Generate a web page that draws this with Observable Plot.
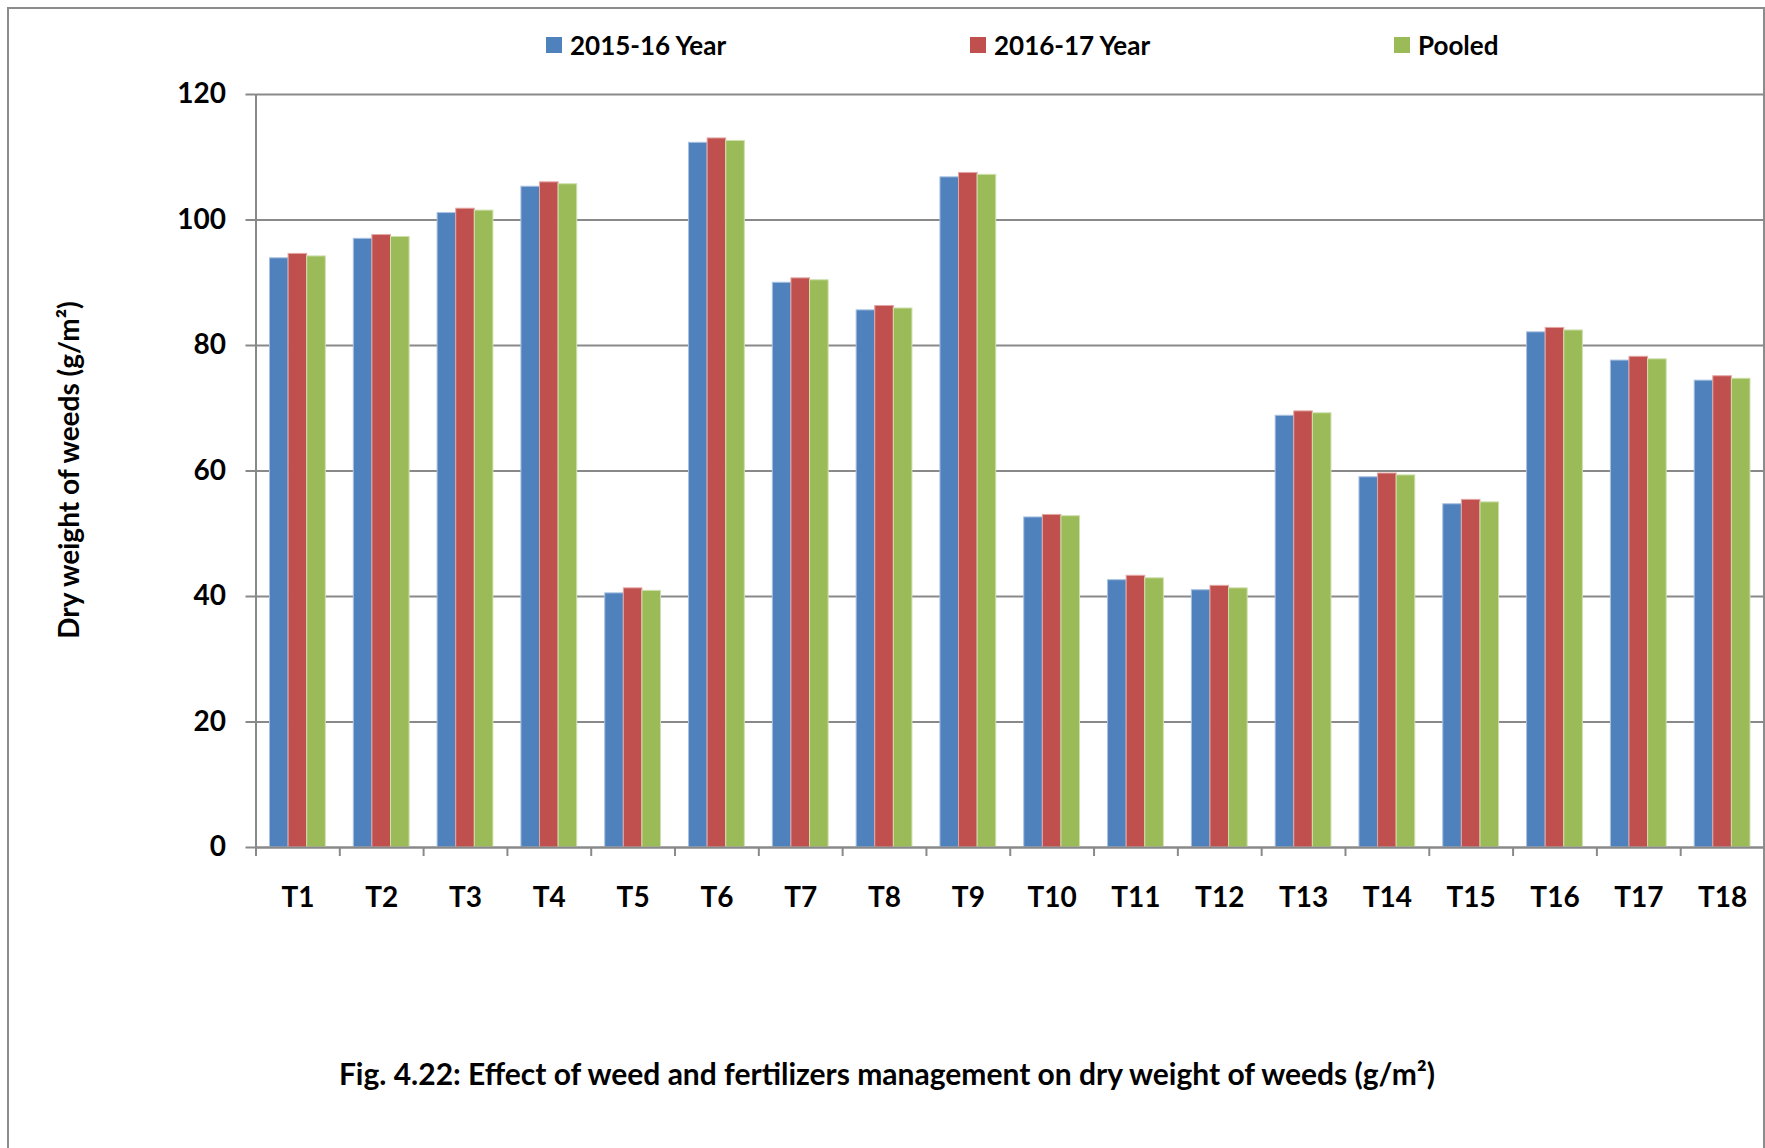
<!DOCTYPE html>
<html>
<head>
<meta charset="utf-8">
<script src="https://cdn.jsdelivr.net/npm/d3@7"></script>
<script src="https://cdn.jsdelivr.net/npm/@observablehq/plot@0.6"></script>
<style>
  html, body { margin: 0; padding: 0; background: #fff; }
  body { width: 1765px; height: 1148px; position: relative; overflow: hidden; font-family: Lato, "Open Sans", sans-serif; color: #000; }
  #frame { position: absolute; left: 7px; top: 7px; width: 1758px; height: 1150px; border: 2px solid #8c8c8c; border-bottom: none; box-sizing: border-box; }
  #legend { position: absolute; top: 0; left: 0; width: 1765px; height: 90px; }
  .li { position: absolute; top: 29px; display: flex; align-items: center; font-weight: 700; font-size: 26px; white-space: nowrap; }
  .sw { width: 16px; height: 16px; margin-right: 8px; }
  #chart { position: absolute; left: 0; top: 0; }
  #ylabel { position: absolute; left: 68px; top: 470px; transform: translate(-50%, -50%) rotate(-90deg); font-weight: 700; font-size: 28px; white-space: nowrap; }
  #caption { position: absolute; left: 887px; top: 1073px; transform: translate(-50%, -50%); font-weight: 700; font-size: 30px; white-space: nowrap; }
</style>
</head>
<body>
<div id="frame"></div>
<div id="legend"></div>
<div id="chart"></div>
<div id="ylabel">Dry weight of weeds (g/m²)</div>
<div id="caption">Fig. 4.22: Effect of weed and fertilizers management on dry weight of weeds (g/m²)</div>
<script>
const treatments = ["T1","T2","T3","T4","T5","T6","T7","T8","T9","T10","T11","T12","T13","T14","T15","T16","T17","T18"];
const seriesNames = ["2015-16 Year", "2016-17 Year", "Pooled"];
const year2015 = [93.9, 97.0, 101.1, 105.3, 40.5, 112.3, 90.0, 85.6, 106.8, 52.6, 42.6, 41.0, 68.8, 59.0, 54.7, 82.1, 77.6, 74.4];
const year2016 = [94.6, 97.6, 101.8, 106.0, 41.3, 113.0, 90.7, 86.3, 107.5, 53.0, 43.3, 41.7, 69.5, 59.6, 55.4, 82.8, 78.2, 75.1];
const pooled   = [94.2, 97.3, 101.5, 105.7, 40.9, 112.6, 90.4, 85.9, 107.2, 52.8, 42.9, 41.3, 69.2, 59.3, 55.0, 82.4, 77.8, 74.7];
const yTicks = [0, 20, 40, 60, 80, 100, 120];
const colors = ["#4F81BD", "#C0504D", "#9BBB59"];
const edges  = ["#a9c1e0", "#e3a7a5", "#cfe0ae"];

const seriesValues = [year2015, year2016, pooled];
const rows = seriesValues.map((vals, si) => treatments.map((t, i) => ({t, s: seriesNames[si], v: vals[i]})));

// legend
const legendX = [546, 970, 1394];
const legend = document.getElementById("legend");
seriesNames.forEach((n, i) => {
  const d = document.createElement("div");
  d.className = "li";
  d.style.left = legendX[i] + "px";
  d.innerHTML = `<span class="sw" style="background:${colors[i]}"></span><span>${n}</span>`;
  legend.appendChild(d);
});

const W = 1765, H = 960;
const mL = 255.5, mR = 1, mT = 94, mB = 113;
const bw = (W - mL - mR) / treatments.length;
const outer = 0.167, barF = 0.222;
const grey = "#898989";

const barMarks = rows.map((data, si) => Plot.barY(data, {
  x: "t", y: "v",
  fill: colors[si],
  stroke: edges[si], strokeWidth: 1,
  insetLeft: bw * (outer + si * barF),
  insetRight: bw - bw * (outer + (si + 1) * barF)
}));

const chart = Plot.plot({
  width: W, height: H,
  marginLeft: mL, marginRight: mR, marginTop: mT, marginBottom: mB,
  style: {fontFamily: "Lato, 'Open Sans', sans-serif", color: "#000", background: "transparent", overflow: "visible"},
  x: {domain: treatments, padding: 0, round: false, axis: null},
  y: {domain: [0, yTicks[yTicks.length - 1]], axis: null},
  marks: [
    Plot.gridY(yTicks, {stroke: grey, strokeOpacity: 1, strokeWidth: 2}),
    ...barMarks,
    Plot.ruleY([0], {stroke: grey, strokeWidth: 2}),
    Plot.ruleX([treatments[0]], {dx: -bw / 2, y1: 0, y2: yTicks[yTicks.length - 1], stroke: grey, strokeWidth: 2}),
    Plot.ruleX(treatments, {x: d => d, dx: -bw / 2, y1: 0, y2: 0, insetBottom: -9, stroke: grey, strokeWidth: 2}),
    Plot.axisY(yTicks, {anchor: "left", tickSize: 10, tickPadding: 20, stroke: grey, strokeWidth: 2, fontSize: 28, fontWeight: "bold", fill: "#000", label: null}),
    Plot.axisX(treatments, {anchor: "bottom", tickSize: 0, tickPadding: 40, fontSize: 28, fontWeight: "bold", fill: "#000", label: null})
  ]
});
document.getElementById("chart").appendChild(chart);
</script>
</body>
</html>
